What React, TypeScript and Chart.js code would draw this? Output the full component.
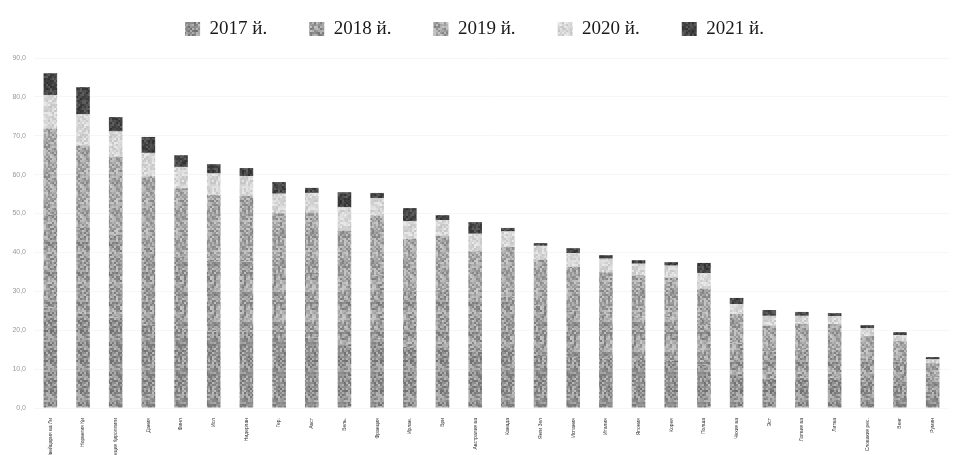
import React, { useEffect, useRef } from "react";
import { Chart, registerables } from "chart.js";

Chart.register(...registerables);

const categories = [
  "Швейцария ва Ли", "Норвегия Қи", "Швеция Қироллиги", "Дания", "Финл",
  "Исл", "Нидерлан", "Гер.", "Авст", "Бель.", "Франция", "Ирлан.",
  "Бри", "Австралия ва", "Канада", "Янги Зел", "Испания", "Италия",
  "Япония", "Корея", "Полша", "Чехия ва", "Эст", "Латвия ва", "Литва",
  "Словакия рес.", "Венг", "Румин",
];

const years = ["2017 й.", "2018 й.", "2019 й.", "2020 й.", "2021 й."];

const v2017 = [25.9, 24.3, 23.3, 21.5, 20.3, 19.7, 19.7, 18.0, 18.1, 16.4, 17.8, 15.7, 15.9, 14.5, 14.9, 13.8, 13.1, 12.6, 12.3, 12.1, 11.1, 8.7, 7.6, 7.8, 7.8, 6.7, 6.2, 4.1];
const v2018 = [23.7, 22.3, 21.3, 19.7, 18.6, 18.1, 18.0, 16.5, 16.6, 15.0, 16.3, 14.4, 14.6, 13.3, 13.7, 12.6, 12.0, 11.5, 11.3, 11.1, 10.1, 8.0, 7.0, 7.2, 7.1, 6.1, 5.7, 3.8];
const v2019 = [22.3, 20.9, 20.0, 18.4, 17.6, 17.0, 16.9, 15.6, 15.6, 14.2, 15.4, 13.4, 13.8, 12.5, 12.8, 11.8, 11.2, 10.8, 10.5, 10.4, 9.5, 7.5, 6.6, 6.7, 6.7, 5.7, 5.3, 3.6];
const v2020 = [8.5, 8.0, 6.5, 6.0, 5.5, 5.5, 5.0, 5.0, 5.0, 6.0, 4.5, 4.5, 4.0, 4.5, 4.0, 3.5, 3.5, 3.5, 3.0, 3.0, 4.0, 2.5, 2.5, 2.0, 2.0, 2.0, 1.5, 1.0];
const v2021 = [5.7, 7.0, 3.7, 4.1, 3.0, 2.4, 2.1, 3.0, 1.3, 3.9, 1.3, 3.4, 1.3, 3.0, 0.9, 0.7, 1.3, 0.9, 0.9, 0.9, 2.6, 1.6, 1.5, 1.0, 0.8, 0.8, 0.8, 0.6];

const yTicks = [0, 10, 20, 30, 40, 50, 60, 70, 80, 90];

// base grey level and speckle strength per year
const greyBase = [150, 158, 166, 215, 72];
const greySpread = [80, 80, 75, 40, 50];

function speckle(base: number, spread: number, seed: number): CanvasPattern | string {
  const size = 30;
  const cell = 2;
  const c = document.createElement("canvas");
  c.width = size;
  c.height = size;
  const ctx = c.getContext("2d");
  if (!ctx) return `rgb(${base},${base},${base})`;
  for (let y = 0; y < size / cell; y++) {
    for (let x = 0; x < size / cell; x++) {
      let h = Math.imul(x + seed * 31, 374761393) + Math.imul(y + seed * 17, 668265263);
      h = Math.imul(h ^ (h >>> 13), 1274126177);
      h = (h ^ (h >>> 16)) >>> 0;
      const n = (h % 1000) / 999 - 0.5;
      const g = Math.max(0, Math.min(255, Math.round(base + n * spread)));
      ctx.fillStyle = `rgb(${g},${g},${g})`;
      ctx.fillRect(x * cell, y * cell, cell, cell);
    }
  }
  return ctx.createPattern(c, "repeat") || `rgb(${base},${base},${base})`;
}

export default function App() {
  const ref = useRef<HTMLCanvasElement>(null);

  useEffect(() => {
    if (!ref.current) return;
    const series = [v2017, v2018, v2019, v2020, v2021];
    const fills = greyBase.map((b, i) => speckle(b, greySpread[i], i + 1));
    const layoutPlugin = {
      id: "layoutTweak",
      beforeInit(chart: any) {
        const lg = chart.legend;
        if (lg) {
          const orig = lg.fit;
          lg.fit = function () {
            orig.call(this);
            this.height = 58;
          };
        }
      },
      afterLayout(chart: any) {
        const lg = chart.legend;
        if (lg) {
          lg.top -= 22;
          lg.bottom -= 22;
        }
      },
    };
    const chart = new Chart(ref.current, {
      type: "bar",
      data: {
        labels: categories,
        datasets: years.map((y, i) => ({
          label: y,
          data: series[i],
          backgroundColor: fills[i] as any,
          borderWidth: 0,
          barPercentage: 0.8,
          categoryPercentage: 0.52,
        })),
      },
      options: {
        animation: false,
        responsive: true,
        maintainAspectRatio: false,
        layout: { padding: { left: 0, right: 10, top: 0, bottom: 0 } },
        plugins: {
          tooltip: { enabled: false },
          legend: {
            position: "top",
            labels: {
              boxWidth: 15,
              boxHeight: 15,
              padding: 42,
              color: "#1a1a1a",
              font: { family: "'Liberation Serif', serif", size: 19 },
            },
          },
        },
        scales: {
          x: {
            stacked: true,
            grid: { display: false },
            border: { display: false },
            afterFit(scale: any) {
              scale.height = 47;
            },
            ticks: {
              autoSkip: false,
              maxRotation: 90,
              minRotation: 90,
              padding: 2,
              color: "#333",
              font: { family: "'Liberation Sans', sans-serif", size: 5 },
            },
          },
          y: {
            stacked: true,
            min: 0,
            max: 90,
            border: { display: false },
            grid: { color: "rgba(0,0,0,0.035)", drawTicks: false },
            afterFit(scale: any) {
              scale.width = 34;
            },
            afterBuildTicks(scale: any) {
              scale.ticks = yTicks.map((v) => ({ value: v }));
            },
            ticks: {
              padding: 8,
              color: "#999",
              font: { family: "'Liberation Sans', sans-serif", size: 7 },
              callback: (v: any) => Number(v).toFixed(1).replace(".", ","),
            },
          },
        },
      },
      plugins: [layoutPlugin],
    });
    return () => chart.destroy();
  }, []);

  return (
    <div style={{ position: "fixed", left: 0, top: 0, width: 959, height: 455, background: "#fff" }}>
      <canvas ref={ref} />
    </div>
  );
}
